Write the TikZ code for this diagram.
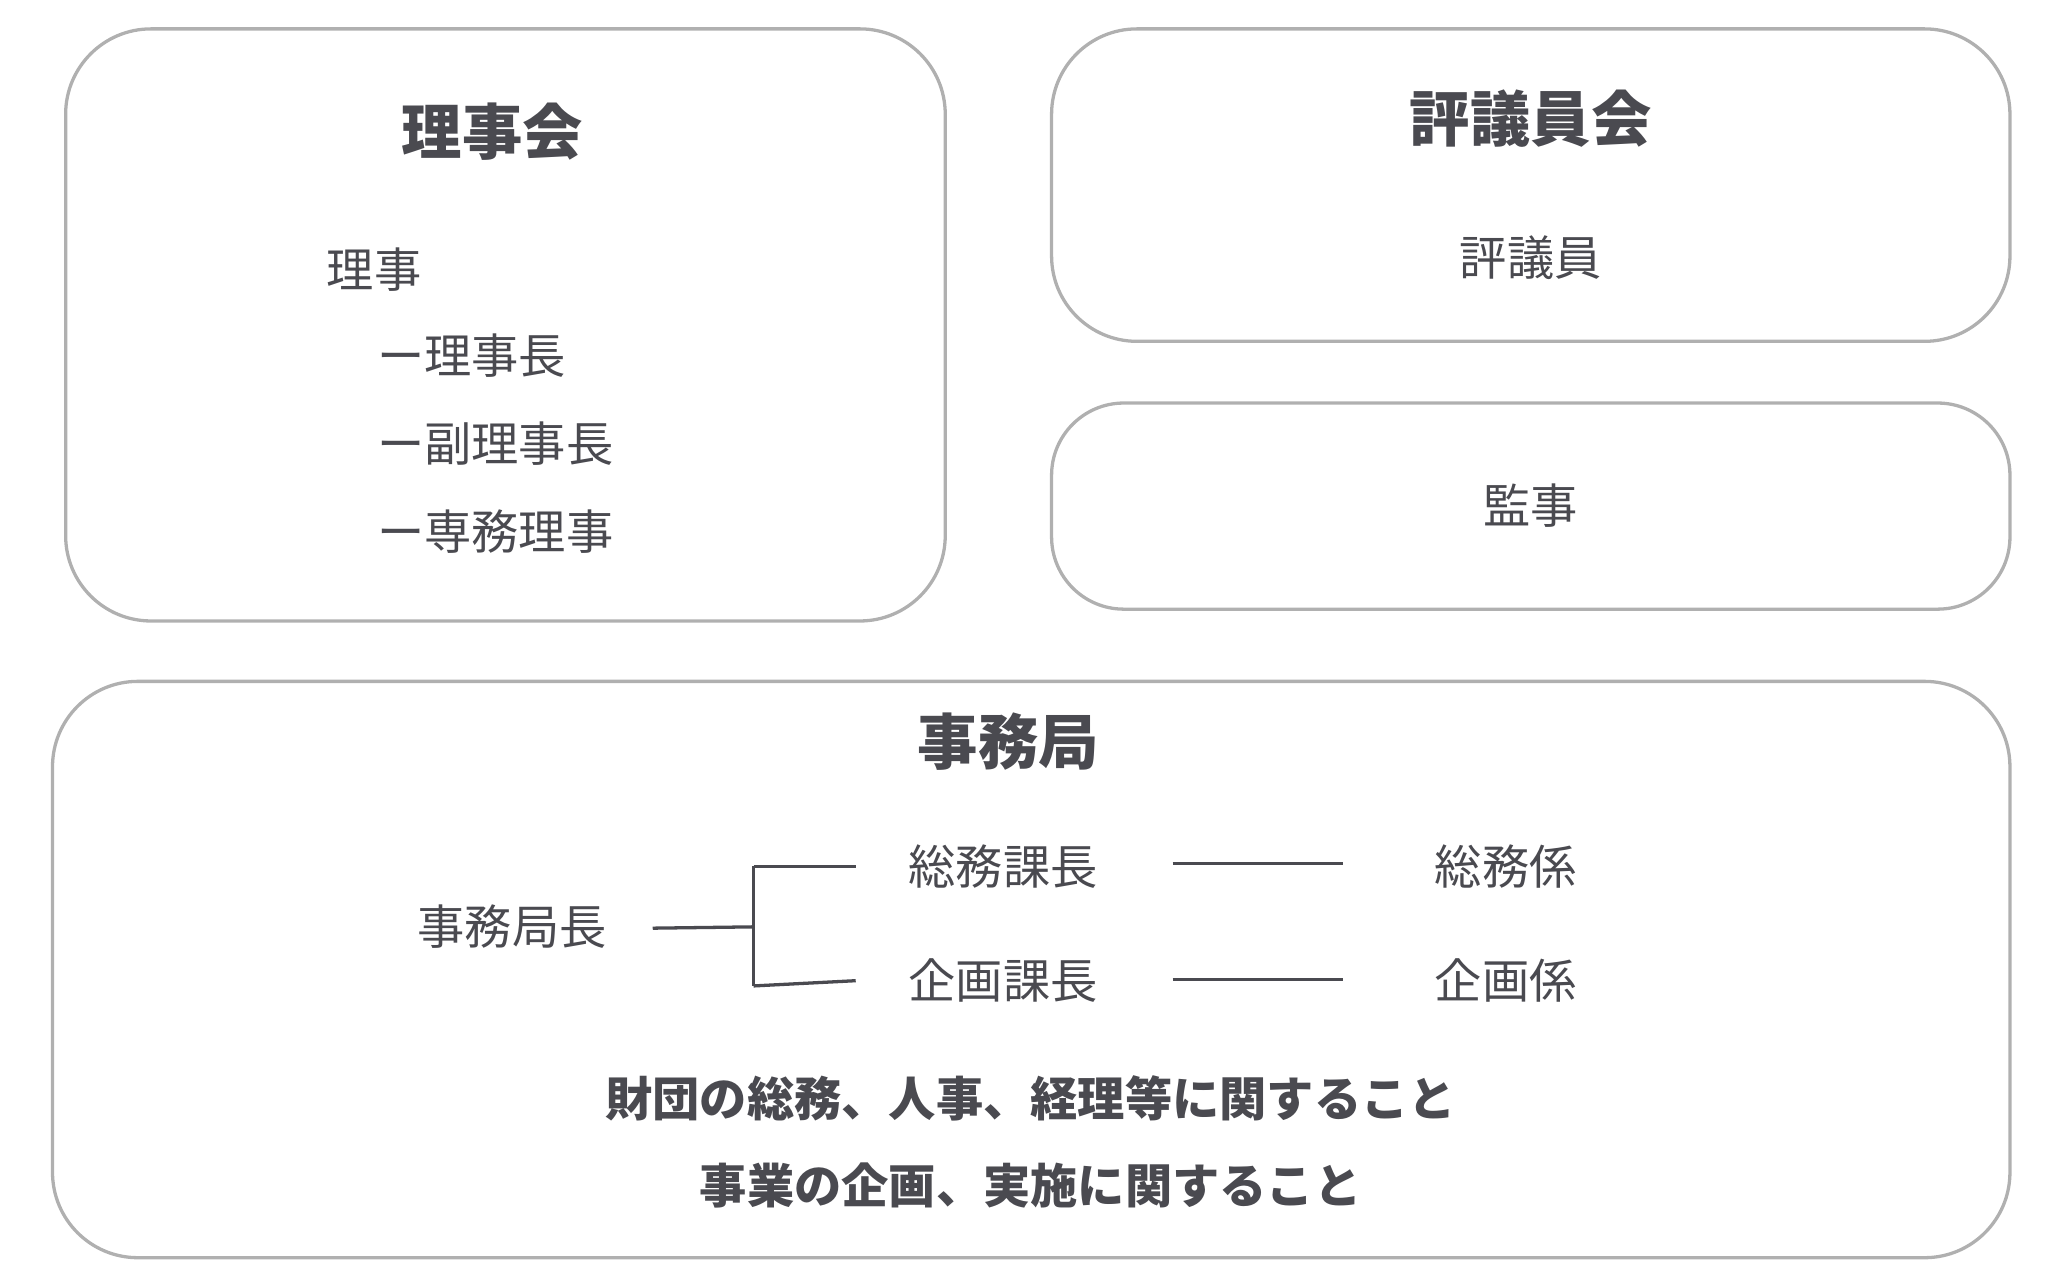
\documentclass[tikz,border=0pt]{standalone}
\usepackage{fontspec}
\setmainfont{Noto Sans CJK JP}
\definecolor{tx}{HTML}{4A4A50}
\definecolor{bd}{HTML}{B0B0B0}
\begin{document}
\begin{tikzpicture}[x=1pt,y=-1pt,
  box/.style={draw=bd,line width=2.5pt,rounded corners=65pt},
  t/.style={text=tx,inner sep=0pt,font=\fontsize{36}{40}\selectfont},
  tb/.style={text=tx,inner sep=0pt,font=\fontsize{46}{50}\selectfont\bfseries},
  tm/.style={text=tx,inner sep=0pt,font=\fontsize{36}{40}\selectfont\bfseries},
  ln/.style={draw=tx,line width=2.5pt}]
\useasboundingbox (0,0) rectangle (1560,977);
\draw[box] (50,22) rectangle (720,473);
\draw[box] (801,22) rectangle (1531,260);
\draw[box,rounded corners=55pt] (801,307) rectangle (1531,464);
\draw[box] (40,519) rectangle (1531,958);
\node[tb] (rj) at (375,100) {理事会};
\node[t] (r1) at (285,205) {理事};
\node[t,anchor=west] (r2) at (287,271) {ー理事長};
\node[t,anchor=west] (r3) at (287,338) {ー副理事長};
\node[t,anchor=west] (r4) at (287,405) {ー専務理事};
\node[tb] (hg) at (1166,90) {評議員会};
\node[t] (hg1) at (1166,196) {評議員};
\node[t] (kj) at (1166,385) {監事};
\node[tb] (jm) at (768,565) {事務局};
\node[t] (jc) at (390,706) {事務局長};
\node[t] (sk) at (764,660) {総務課長};
\node[t] (kk) at (764,747) {企画課長};
\node[t] (sg) at (1147,660) {総務係};
\node[t] (kg) at (1147,747) {企画係};
\coordinate (b) at (574,706);
\coordinate (bt) at (574,660);
\coordinate (bb) at (574,751);
\draw[ln] (jc.east) ++(35,1) -- (b);
\draw[ln] (bt) -- (bb);
\draw[ln] (bt) -- ([xshift=-40pt]sk.west);
\draw[ln] (bb) -- ([xshift=-40pt]kk.west);
\draw[ln] ([xshift=57pt,yshift=2pt]sk.east) -- ([xshift=-70pt,yshift=2pt]sg.west);
\draw[ln] ([xshift=57pt,yshift=1pt]kk.east) -- ([xshift=-70pt,yshift=1pt]kg.west);
\node[tm] (d1) at (785,837) {財団の総務、人事、経理等に関すること};
\node[tm] (d2) at (785,903) {事業の企画、実施に関すること};
\end{tikzpicture}
\end{document}
